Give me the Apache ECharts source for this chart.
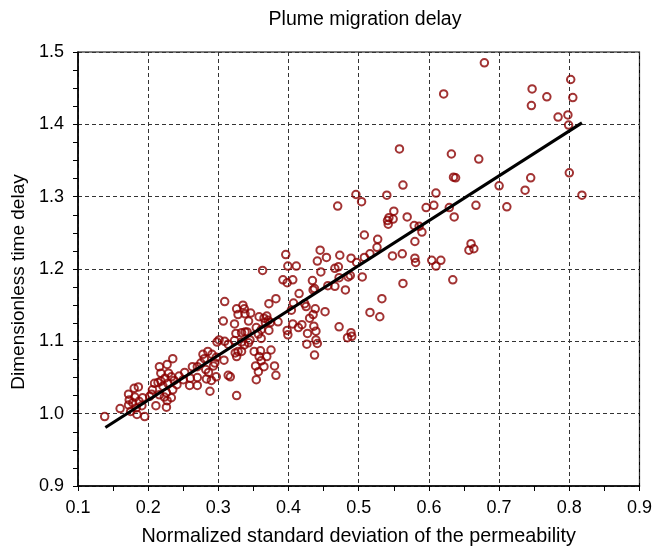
<!DOCTYPE html>
<html>
<head>
<meta charset="utf-8">
<script src="https://cdn.jsdelivr.net/npm/echarts@6/dist/echarts.min.js"></script>
<style>
html,body{margin:0;padding:0;background:#fff;}
#chart{width:655px;height:553px;}
</style>
</head>
<body>
<div id="chart"></div>
<script>
const chartTitle = "Plume migration delay";
const xName = "Normalized standard deviation of the permeability";
const yName = "Dimensionless time delay";

// Normalized standard deviation (x) of each sample
const sigmaValues = [
0.138,0.160,0.172,0.173,0.180,0.186,0.181,0.172,0.178,0.183,0.175,0.184,0.191,0.195,0.187,0.192,
0.206,0.209,0.216,0.227,0.235,0.229,0.218,0.205,0.202,0.211,0.226,0.227,0.223,0.216,0.226,0.235,
0.221,0.218,0.214,0.224,0.233,0.228,0.237,0.244,0.252,0.259,0.270,0.241,0.250,0.233,0.288,0.263,
0.278,0.280,0.275,0.291,0.297,0.295,0.293,0.282,0.286,0.283,0.297,0.290,0.308,0.314,0.260,0.270,
0.270,0.285,0.326,
0.309,0.307,0.301,0.298,0.309,0.314,0.326,0.335,0.337,0.328,0.338,0.346,0.323,0.343,0.325,0.333,
0.338,0.341,0.323,0.333,0.337,0.343,0.345,0.357,0.361,0.354,0.361,0.358,0.365,0.369,0.371,0.367,
0.372,0.372,0.382,0.385,0.351,0.360,0.369,0.358,0.361,0.353,0.365,0.357,0.380,0.382,0.354,0.324,
0.326,0.328,0.333,0.317,0.375,
0.363,0.396,0.399,0.411,0.392,0.398,0.406,0.434,0.437,0.435,0.445,0.454,0.441,0.446,0.473,0.489,
0.497,0.466,0.471,0.472,0.485,0.488,0.505,0.456,0.466,0.481,0.415,0.407,0.423,0.425,0.404,0.438,
0.435,0.430,0.452,0.374,0.406,0.419,0.414,0.398,0.399,0.439,0.427,0.436,0.472,0.489,0.490,0.484,
0.439,0.441,0.426,0.437,0.508,0.527,0.526,0.516,0.508,0.548,0.562,0.580,0.580,0.581,0.604,0.617,
0.610,0.563,0.533,0.516,0.530,0.634,0.660,0.664,0.657,
0.558,0.563,0.496,0.504,0.470,0.540,0.550,0.543,0.549,0.541,0.542,0.569,0.579,0.586,0.590,0.596,
0.607,0.610,0.629,0.636,0.632,0.635,0.638,0.621,
0.679,0.802,0.747,0.768,0.805,0.746,0.798,0.784,0.799,0.671,0.745,0.800,0.700,0.737,0.818,0.667,0.711
];

// Dimensionless time delay (y) of each sample
const delayValues = [
0.996,1.007,1.027,1.019,1.035,1.037,1.023,1.012,1.015,1.008,1.003,0.999,1.011,0.996,1.017,1.022,
1.033,1.042,1.065,1.068,1.076,1.056,1.056,1.027,1.024,1.011,1.009,1.018,1.023,1.026,1.029,1.033,
1.038,1.045,1.043,1.049,1.051,1.042,1.046,1.052,1.057,1.039,1.039,1.040,1.047,1.022,1.031,1.065,
1.082,1.076,1.070,1.082,1.078,1.070,1.066,1.061,1.057,1.048,1.051,1.046,1.074,1.053,1.049,1.050,
1.065,1.086,1.025,
1.155,1.128,1.102,1.099,1.100,1.096,1.145,1.150,1.145,1.137,1.138,1.139,1.124,1.128,1.111,1.112,
1.113,1.113,1.101,1.099,1.095,1.098,1.102,1.110,1.104,1.119,1.116,1.134,1.132,1.135,1.129,1.126,
1.115,1.152,1.159,1.127,1.086,1.087,1.079,1.079,1.073,1.066,1.065,1.058,1.066,1.053,1.047,1.084,
1.079,1.086,1.086,1.051,1.088,
1.198,1.220,1.204,1.204,1.185,1.181,1.185,1.184,1.173,1.171,1.226,1.216,1.211,1.196,1.219,1.215,
1.209,1.201,1.203,1.188,1.189,1.191,1.189,1.177,1.176,1.171,1.166,1.153,1.152,1.148,1.143,1.145,
1.137,1.132,1.141,1.126,1.124,1.123,1.119,1.115,1.109,1.114,1.111,1.121,1.120,1.112,1.107,1.105,
1.102,1.097,1.096,1.081,1.247,1.241,1.230,1.221,1.216,1.218,1.221,1.238,1.215,1.209,1.212,1.212,
1.204,1.180,1.159,1.140,1.134,1.185,1.235,1.228,1.226,
1.366,1.316,1.303,1.293,1.287,1.302,1.280,1.271,1.269,1.267,1.262,1.272,1.260,1.259,1.251,1.285,
1.288,1.305,1.285,1.272,1.359,1.327,1.326,1.442,
1.485,1.462,1.449,1.438,1.437,1.426,1.413,1.410,1.399,1.352,1.326,1.333,1.315,1.309,1.302,1.288,1.286
];

// Linear fit endpoints
const fitX = [0.139, 0.818];
const fitY = [0.981, 1.402];

const points = sigmaValues.map((v, i) => [v, delayValues[i]]);
const fitLine = fitX.map((v, i) => [v, fitY[i]]);

const FONT = '"Liberation Sans", Arial, sans-serif';
const chart = echarts.init(document.getElementById('chart'), null, {renderer: 'canvas'});
chart.setOption({
  animation: false,
  backgroundColor: '#fff',
  title: {
    text: chartTitle,
    left: 360,
    top: 5,
    textAlign: 'center',
    textStyle: {fontFamily: FONT, fontSize: 19.5, fontWeight: 'normal', color: '#000'}
  },
  grid: {
    left: 78, right: 13, top: 52, bottom: 67,
    show: true, borderColor: '#000', borderWidth: 1.2, backgroundColor: 'transparent'
  },
  xAxis: {
    type: 'value', min: 0.1, max: 0.9, interval: 0.1,
    name: xName, nameLocation: 'middle', nameGap: 41,
    nameTextStyle: {fontFamily: FONT, fontSize: 19.8, color: '#000'},
    axisLine: {show: true, lineStyle: {color: '#000', width: 1.5}},
    axisTick: {show: true, inside: false, length: 5, lineStyle: {color: '#000'}},
    minorTick: {show: true, splitNumber: 2, length: 5, lineStyle: {color: '#000'}},
    axisLabel: {fontFamily: FONT, fontSize: 18, color: '#000', margin: 13,
      formatter: v => v.toFixed(1)},
    splitLine: {show: true, lineStyle: {color: '#333', type: [4, 3], width: 1}}
  },
  yAxis: {
    type: 'value', min: 0.9, max: 1.5, interval: 0.1,
    name: yName, nameLocation: 'middle', nameGap: 47, nameRotate: 90,
    nameTextStyle: {fontFamily: FONT, fontSize: 19, color: '#000', padding: [0, 26, 0, 0]},
    axisLine: {show: true, lineStyle: {color: '#000', width: 1.5}},
    axisTick: {show: true, inside: false, length: 5, lineStyle: {color: '#000'}},
    minorTick: {show: true, splitNumber: 4, length: 5, lineStyle: {color: '#000'}},
    axisLabel: {fontFamily: FONT, fontSize: 18, color: '#000', margin: 14,
      formatter: v => v.toFixed(1)},
    splitLine: {show: true, lineStyle: {color: '#333', type: [4, 3], width: 1}}
  },
  series: [
    {
      type: 'scatter',
      data: points,
      symbol: 'circle',
      symbolSize: 7.5,
      itemStyle: {color: 'rgba(0,0,0,0)', borderColor: '#8b0000', borderWidth: 2},
      z: 2
    },
    {
      type: 'line',
      data: fitLine,
      symbol: 'none',
      lineStyle: {color: '#000', width: 3},
      z: 3
    }
  ]
});
</script>
</body>
</html>
